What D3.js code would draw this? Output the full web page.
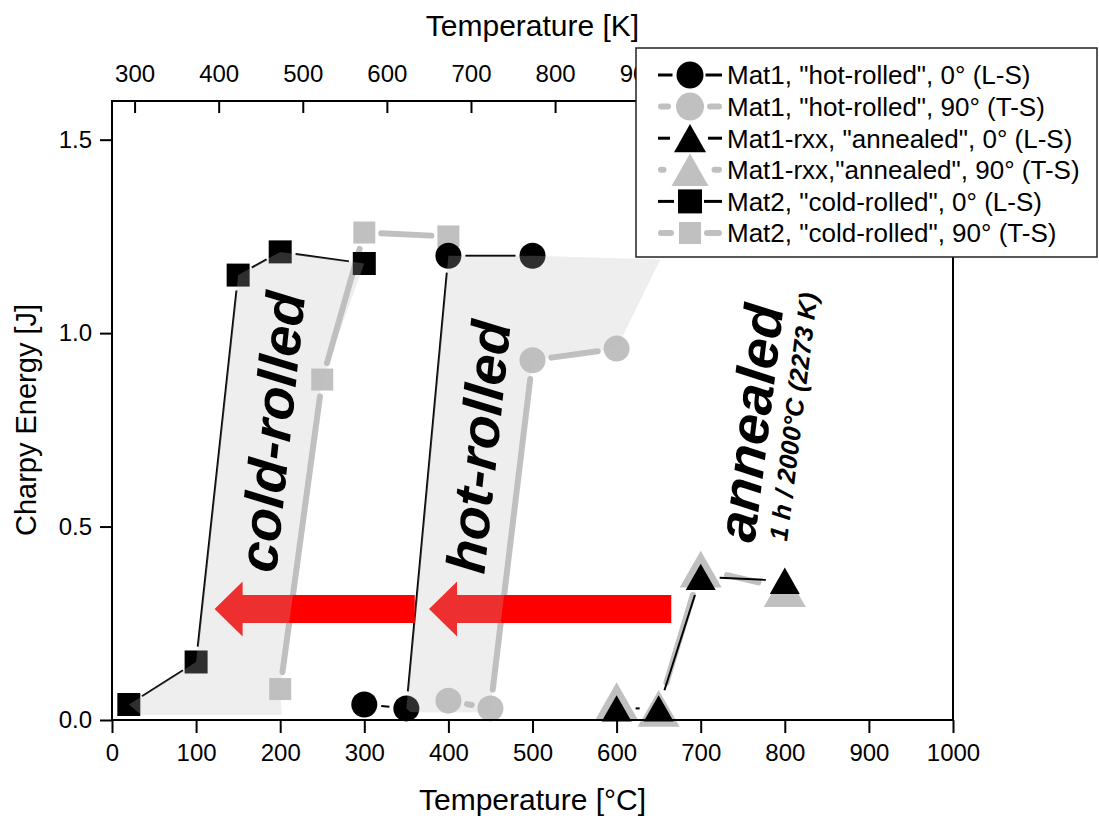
<!DOCTYPE html>
<html>
<head>
<meta charset="utf-8">
<script src="https://cdn.jsdelivr.net/npm/d3@7/dist/d3.min.js"></script>
<style>
  body { margin: 0; background: #fff; }
  svg { display: block; font-family: "Liberation Sans", Arial, sans-serif; }
</style>
</head>
<body>
<div class="canvas"></div>
<script>
// data: temperature in °C, Charpy energy in J
const mat1LS_T = [300, 350, 400, 500];
const mat1LS_E = [0.04, 0.03, 1.20, 1.20];
const mat1TS_T = [400, 450, 500, 600];
const mat1TS_E = [0.05, 0.03, 0.93, 0.96];
const rxxLS_T = [600, 650, 700, 800];
const rxxLS_E = [0.03, 0.03, 0.37, 0.36];
const rxxTS_T = [600, 650, 700, 800];
const rxxTS_E = [0.05, 0.03, 0.39, 0.34];
const mat2LS_T = [20, 100, 150, 200, 300];
const mat2LS_E = [0.04, 0.15, 1.15, 1.21, 1.18];
const mat2TS_T = [200, 250, 300, 400];
const mat2TS_E = [0.08, 0.88, 1.26, 1.25];

const legendLabels = [
  'Mat1, "hot-rolled", 0° (L-S)',
  'Mat1, "hot-rolled", 90° (T-S)',
  'Mat1-rxx, "annealed", 0° (L-S)',
  'Mat1-rxx,"annealed", 90° (T-S)',
  'Mat2, "cold-rolled", 0° (L-S)',
  'Mat2, "cold-rolled", 90° (T-S)'
];

// tick labels (the top labels past 900 K sit under the legend)
const celsiusTicks = [0, 100, 200, 300, 400, 500, 600, 700, 800, 900, 1000];
const kelvinTicks = [300, 400, 500, 600, 700, 800, 900];
const energyTicks = [0.0, 0.5, 1.0, 1.5];

// shaded bands (°C, J)
const coldBand = [[20, 0.04], [100, 0.15], [150, 1.15], [200, 1.21], [300, 1.18], [250, 0.88], [200, 0.08], [202, 0.013], [35, 0.013]];
const hotBand = [[350, 0.03], [400, 1.20], [500, 1.20], [652, 1.19], [600, 0.96], [500, 0.93], [450, 0.03], [440, 0.02], [355, 0.02]];

// red arrows: tail and tip in °C, height in J
const arrowTails = [360, 665];
const arrowTips = [122, 377];
const arrowLevel = 0.287;

// margins and dimensions
const w = 1099;
const h = 818;
const margin = { top: 101, right: 146, bottom: 98, left: 112 };
const graphWidth = w - margin.left - margin.right;
const graphHeight = h - margin.top - margin.bottom;

const black = "#000";
const grey = "#c0c0c0";

const svg = d3.select(".canvas").append("svg").attr("width", w).attr("height", h);

const graph = svg.append("g").attr("transform", `translate(${margin.left}, ${margin.top})`);

const x = d3.scaleLinear().domain([0, 1000]).range([0, graphWidth]);
const xK = d3.scaleLinear().domain([273.15, 1273.15]).range([0, graphWidth]);
const y = d3.scaleLinear().domain([0, 1.6]).range([graphHeight, 0]);

// marker shapes
function markerPath(shape, size) {
  const r = size / 2;
  if (shape === "circle") return d3.symbol(d3.symbolCircle, Math.PI * r * r)();
  if (shape === "square") return `M${-r},${-r}H${r}V${r}H${-r}Z`;
  const th = size * 0.88;
  return `M0,${-th / 2}L${r},${th / 2}L${-r},${th / 2}Z`;
}

const series = [
  { T: mat1TS_T, E: mat1TS_E, shape: "circle", color: grey, size: 26, lw: 6, label: legendLabels[1], legendSize: 28 },
  { T: mat2TS_T, E: mat2TS_E, shape: "square", color: grey, size: 22, lw: 6, label: legendLabels[5], legendSize: 22 },
  { T: rxxTS_T, E: rxxTS_E, shape: "triangle", color: grey, size: 42, lw: 6, label: legendLabels[3], legendSize: 37 },
  { T: mat1LS_T, E: mat1LS_E, shape: "circle", color: black, size: 26, lw: 2, label: legendLabels[0], legendSize: 27 },
  { T: mat2LS_T, E: mat2LS_E, shape: "square", color: black, size: 23, lw: 2, label: legendLabels[4], legendSize: 24 },
  { T: rxxLS_T, E: rxxLS_E, shape: "triangle", color: black, size: 30, lw: 2, label: legendLabels[2], legendSize: 32 }
];

// lines with a gap near each marker (like Origin draws them)
series.forEach((s) => {
  const pts = s.T.map((t, i) => [x(t), y(s.E[i])]);
  const gap = s.size / 2 + (s.color === grey ? 6 : 4);
  for (let i = 0; i < pts.length - 1; i++) {
    const [x1, y1] = pts[i];
    const [x2, y2] = pts[i + 1];
    const len = Math.hypot(x2 - x1, y2 - y1);
    if (len <= 2 * gap) continue;
    const ux = (x2 - x1) / len, uy = (y2 - y1) / len;
    graph.append("line")
      .attr("x1", x1 + ux * gap).attr("y1", y1 + uy * gap)
      .attr("x2", x2 - ux * gap).attr("y2", y2 - uy * gap)
      .attr("stroke", s.color)
      .attr("stroke-width", s.lw)
      .attr("stroke-linecap", s.color === grey ? "round" : "butt");
  }
});

// markers
series.forEach((s) => {
  graph.append("g").selectAll("path")
    .data(s.T.map((t, i) => ({ t, e: s.E[i] })))
    .join("path")
    .attr("d", markerPath(s.shape, s.size))
    .attr("transform", (d) => `translate(${x(d.t)}, ${y(d.e)})`)
    .attr("fill", s.color);
});

// red arrows
arrowTails.forEach((tail, i) => {
  const x0 = x(tail), x1 = x(arrowTips[i]), yc = y(arrowLevel);
  const bh = 14, hh = 27.5, hl = 28;
  graph.append("path")
    .attr("d", `M${x0},${yc - bh}H${x1 + hl}V${yc - hh}L${x1},${yc}L${x1 + hl},${yc + hh}V${yc + bh}H${x0}Z`)
    .attr("fill", "#ff0000");
});

// translucent grey bands on top
const band = d3.line().x((d) => x(d[0])).y((d) => y(d[1]));
[coldBand, hotBand].forEach((b) => {
  graph.append("path")
    .attr("d", band(b) + "Z")
    .attr("fill", "#bcbcbc")
    .attr("fill-opacity", 0.25);
});

// band labels
const labels = [
  { text: "cold-rolled", t: 189, e: 0.745, size: 55, angle: -84 },
  { text: "hot-rolled", t: 435, e: 0.706, size: 55, angle: -84 },
  { text: "annealed", t: 758, e: 0.768, size: 55, angle: -83 },
  { text: "1 h / 2000°C (2273 K)", t: 810, e: 0.784, size: 25.5, angle: -83 }
];
labels.forEach((l) => {
  graph.append("text")
    .attr("transform", `translate(${x(l.t)}, ${y(l.e)}) rotate(${l.angle})`)
    .attr("text-anchor", "middle")
    .attr("dy", "0.36em")
    .attr("font-size", l.size)
    .attr("font-weight", "bold")
    .attr("font-style", "italic")
    .text(l.text);
});

// axes
const styleAxis = (g) => {
  g.select(".domain").remove();
  g.selectAll(".tick line").attr("stroke", black).attr("stroke-width", 2);
  g.selectAll(".tick text").attr("font-size", 24).attr("fill", black).attr("font-family", "Liberation Sans, Arial, sans-serif");
};

graph.append("g")
  .attr("transform", `translate(0, ${graphHeight})`)
  .call(d3.axisBottom(x).tickValues(celsiusTicks).tickSize(13).tickPadding(11).tickFormat(d3.format("d")))
  .call(styleAxis);

graph.append("g")
  .call(d3.axisLeft(y).tickValues(energyTicks).tickSize(12).tickPadding(8).tickFormat(d3.format(".1f")))
  .call(styleAxis);

graph.append("g")
  .call(d3.axisTop(xK).tickValues(kelvinTicks).tickSize(-12).tickPadding(19).tickFormat(d3.format("d")))
  .call(styleAxis);

// frame
graph.append("rect")
  .attr("width", graphWidth)
  .attr("height", graphHeight)
  .attr("fill", "none")
  .attr("stroke", black)
  .attr("stroke-width", 2);

// axis titles
svg.append("text")
  .attr("x", margin.left + graphWidth / 2).attr("y", 36)
  .attr("text-anchor", "middle")
  .attr("font-size", 30)
  .text("Temperature [K]");

svg.append("text")
  .attr("x", margin.left + graphWidth / 2).attr("y", 810)
  .attr("text-anchor", "middle")
  .attr("font-size", 30)
  .text("Temperature [°C]");

svg.append("text")
  .attr("transform", "translate(36, 420) rotate(-90)")
  .attr("text-anchor", "middle")
  .attr("font-size", 29)
  .text("Charpy Energy [J]");

// legend
const legend = svg.append("g").attr("transform", "translate(636, 48)");
legend.append("rect")
  .attr("width", 461).attr("height", 209)
  .attr("fill", "#fff")
  .attr("stroke", "#222")
  .attr("stroke-width", 1.5);

const legendOrder = [3, 0, 5, 2, 4, 1];
legendOrder.forEach((si, row) => {
  const s = series[si];
  const cy = 27 + row * 31.6;
  const g = legend.append("g").attr("transform", `translate(0, ${cy})`);
  const isGrey = s.color === grey;
  const half = s.legendSize / 2 + (isGrey ? 4 : 3);
  [[22, 53 - half], [53 + half, 86]].forEach(([a, b]) => {
    g.append("line")
      .attr("x1", a + (isGrey ? 3 : 0)).attr("x2", b - (isGrey ? 3 : 0))
      .attr("stroke", s.color)
      .attr("stroke-width", isGrey ? s.lw : 3)
      .attr("stroke-linecap", isGrey ? "round" : "butt");
  });
  g.append("path")
    .attr("d", markerPath(s.shape, s.legendSize))
    .attr("transform", "translate(54, 0)")
    .attr("fill", s.color);
  g.append("text")
    .attr("x", 91)
    .attr("dy", "0.36em")
    .attr("font-size", 26)
    .text(s.label);
});
</script>
</body>
</html>
